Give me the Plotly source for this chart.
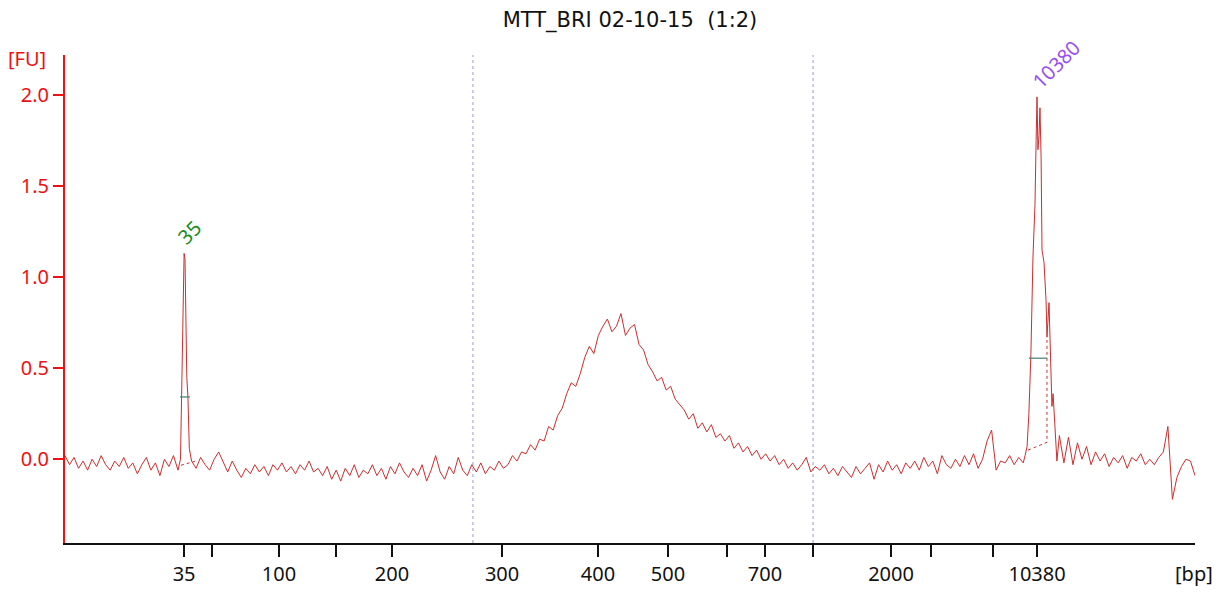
import numpy as np
import plotly.graph_objects as go

# ---------------- data (migration time in s, signal in FU) ----------------
title_text = "MTT_BRI 02-10-15\u00a0\u00a0(1:2)"

ladder_bp = [35, 50, 100, 150, 200, 300, 400, 500, 600, 700, 1000, 2000, 3000, 7000, 10380]
ladder_t = [25.27, 26.50, 29.47, 31.99, 34.47, 39.34, 43.58, 46.68, 49.29, 50.97,
            53.10, 56.55, 58.32, 61.06, 63.01]
ladder_labeled = [35, 100, 200, 300, 400, 500, 700, 2000, 10380]

fu_ticks = [0.0, 0.5, 1.0, 1.5, 2.0]

region_t = [38.05, 53.10]

pre_t0, pre_dt = 20.0, 0.2
pre_fu = [0.02, -0.03, 0.01, -0.05, -0.01, -0.06, 0.00, -0.04, 0.02, -0.03,
          -0.06, -0.01, -0.04, 0.01, -0.05, -0.02, -0.08, -0.03, 0.01, -0.06,
          -0.02, -0.09, 0.00, -0.04, 0.02, -0.06]

p35_t = [25.11, 25.15, 25.19, 25.23, 25.27, 25.31, 25.35, 25.39, 25.44, 25.50]
p35_fu = [0.00, 0.34, 0.62, 0.98, 1.13, 1.10, 0.80, 0.45, 0.34, 0.06]

mid_t0, mid_dt = 25.6, 0.2
mid_fu = [
    -0.01, -0.05, 0.01, -0.03, -0.06, 0.00, 0.04, -0.02, -0.07, -0.01,
    -0.06, -0.10, -0.05, -0.08, -0.03, -0.07, -0.04, -0.09, -0.03, -0.06,
    -0.02, -0.07, -0.04, -0.08, -0.03, -0.06, -0.01, -0.07, -0.05, -0.09,
    -0.04, -0.11, -0.06, -0.12, -0.05, -0.09, -0.03, -0.10, -0.06, -0.08,
    -0.03, -0.09, -0.05, -0.11, -0.04, -0.08, -0.02, -0.07, -0.10, -0.05,
    -0.09, -0.03, -0.12, -0.06, 0.02, -0.07, -0.11, -0.04, -0.08, 0.01,
    -0.06, -0.09, -0.03, -0.07, -0.02, -0.08, -0.04, -0.06, -0.01, -0.05,
    -0.03, 0.02, -0.01, 0.04, 0.03, 0.08, 0.05, 0.11, 0.10, 0.18,
    0.16, 0.24, 0.28, 0.36, 0.42, 0.40, 0.47, 0.56, 0.62, 0.58,
    0.68, 0.73, 0.77, 0.70, 0.73, 0.80, 0.68, 0.72, 0.74, 0.63,
    0.60, 0.52, 0.48, 0.43, 0.45, 0.38, 0.40, 0.33, 0.30, 0.27,
    0.22, 0.25, 0.17, 0.20, 0.15, 0.19, 0.12, 0.14, 0.10, 0.13,
    0.06, 0.09, 0.04, 0.07, 0.02, 0.05, 0.00, 0.03, -0.01, 0.02,
    -0.03, 0.00, -0.05, -0.02, -0.06, -0.03, 0.01, -0.07, -0.04, -0.06,
    -0.03, -0.08, -0.05, -0.09, -0.04, -0.07, -0.10, -0.04, -0.08, -0.05,
    -0.02, -0.11, -0.03, -0.07, -0.01, -0.06, -0.03, -0.08, -0.02, -0.05,
    -0.01, -0.06, 0.01, -0.04, -0.01, -0.08, 0.02, -0.03, -0.05, 0.00,
    -0.04, 0.02, -0.03, 0.03, -0.05, 0.00, 0.10, 0.16, -0.06, -0.01,
    -0.02, 0.02, -0.03, 0.01, -0.02,
]

p10380_t = [62.48, 62.57, 62.65, 62.74, 62.83, 62.92, 62.97, 63.01, 63.05, 63.10,
            63.14, 63.19, 63.23, 63.32, 63.41, 63.45, 63.54, 63.63, 63.67, 63.72,
            63.81, 63.89]
p10380_fu = [0.02, 0.07, 0.25, 0.58, 1.11, 1.40, 1.75, 1.99, 1.70, 1.78,
             1.93, 1.66, 1.15, 1.08, 0.87, 0.67, 0.86, 0.53, 0.29, 0.36,
             0.16, -0.01]

post_t0, post_dt = 64.0, 0.2
post_fu = [0.13, -0.02, 0.12, -0.03, 0.09, 0.00, 0.07, -0.03, 0.04, -0.01,
           0.03, -0.04, 0.01, -0.02, 0.02, -0.05, 0.01, -0.01, 0.03, -0.03,
           0.00, -0.03, 0.01, 0.04, 0.18, -0.22, -0.10, -0.04, 0.00, -0.01,
           -0.09]

peak_labels = ["35", "10380"]
peak_label_colors = ["#228b22", "#9a4ff0"]

# peak width markers (time start, time end, FU level)
width_t = [[25.09, 25.53], [62.65, 63.45]]
width_fu = [0.342, 0.555]
# peak baselines (dotted)
base_t = [[25.13, 25.75], [62.61, 63.45, 63.45]]
base_fu = [[-0.033, -0.011], [0.05, 0.093, 0.67]]

# ---------------- build trace ----------------
pre_t = pre_t0 + pre_dt * np.arange(len(pre_fu))
mid_t = mid_t0 + mid_dt * np.arange(len(mid_fu))
post_t = post_t0 + post_dt * np.arange(len(post_fu))

t_all = np.concatenate([pre_t, p35_t, mid_t, p10380_t, post_t])
fu_all = np.concatenate([pre_fu, p35_fu, mid_fu, p10380_fu, post_fu])

TRACE = "#cc2e2e"
AXRED = "#ee1111"
FONT = "Noto Sans"

fig = go.Figure()
fig.add_trace(go.Scatter(x=t_all, y=fu_all, mode="lines",
                         line=dict(color=TRACE, width=1), hoverinfo="skip"))

for bt, bf in zip(base_t, base_fu):
    fig.add_trace(go.Scatter(x=bt, y=bf, mode="lines",
                             line=dict(color=TRACE, width=1, dash="dot"), hoverinfo="skip"))
for wt, wf in zip(width_t, width_fu):
    fig.add_trace(go.Scatter(x=wt, y=[wf, wf], mode="lines",
                             line=dict(color="#3d7f6e", width=1.2), hoverinfo="skip"))

for rt in region_t:
    fig.add_shape(type="line", xref="x", yref="paper", x0=rt, x1=rt, y0=0, y1=1,
                  line=dict(color="#9a9ad0", width=1, dash="dot"), layer="below")

# peak labels
peaks = [(p35_t, p35_fu), (p10380_t, p10380_fu)]
shifts = [(5, 21), (19, 32)]
for (pt, pf), lab, col, (dx, dy) in zip(peaks, peak_labels, peak_label_colors, shifts):
    k = int(np.argmax(pf))
    fig.add_annotation(x=pt[k], y=pf[k], text=lab, showarrow=False,
                       xshift=dx, yshift=dy, textangle=-45,
                       font=dict(family=FONT, size=20, color=col))

tick_text = [str(b) if b in ladder_labeled else "" for b in ladder_bp]

fig.update_layout(
    width=1216, height=592,
    margin=dict(l=65, r=21, t=55, b=49, autoexpand=False),
    paper_bgcolor="white", plot_bgcolor="white",
    showlegend=False,
    title=dict(text=title_text, x=0.5, xref="paper", xanchor="center",
               y=1 - 20 / 592, yref="container", yanchor="middle", automargin=False,
               font=dict(family="DejaVu Sans", size=21, color="#111111")),
    xaxis=dict(range=[20, 70], tickvals=ladder_t, ticktext=tick_text, tickmode="array",
               ticks="outside", ticklen=12, tickwidth=2, tickcolor="#111111",
               showline=True, linecolor="#111111", linewidth=2,
               showgrid=False, zeroline=False, automargin=False,
               tickfont=dict(family=FONT, size=20, color="#111111")),
    yaxis=dict(range=[-0.46, 2.22], tickvals=fu_ticks,
               ticktext=[f"{v:.1f}" for v in fu_ticks],
               ticks="outside", ticklen=10, tickwidth=2, tickcolor=AXRED,
               showline=True, linecolor=AXRED, linewidth=2,
               showgrid=False, zeroline=False, automargin=False,
               tickfont=dict(family=FONT, size=20, color=AXRED)),
)

fig.add_annotation(xref="paper", yref="paper", x=(27 - 65) / 1130, y=(543 - 58) / 488,
                   text="[FU]", showarrow=False, xanchor="center", yanchor="middle",
                   font=dict(family=FONT, size=20, color=AXRED))
fig.add_annotation(xref="paper", yref="paper", x=(1194 - 65) / 1130, y=(543 - 573) / 488,
                   text="[bp]", showarrow=False, xanchor="center", yanchor="middle",
                   font=dict(family=FONT, size=20, color="#111111"))

fig.write_html("out.html", config={"displayModeBar": False})
